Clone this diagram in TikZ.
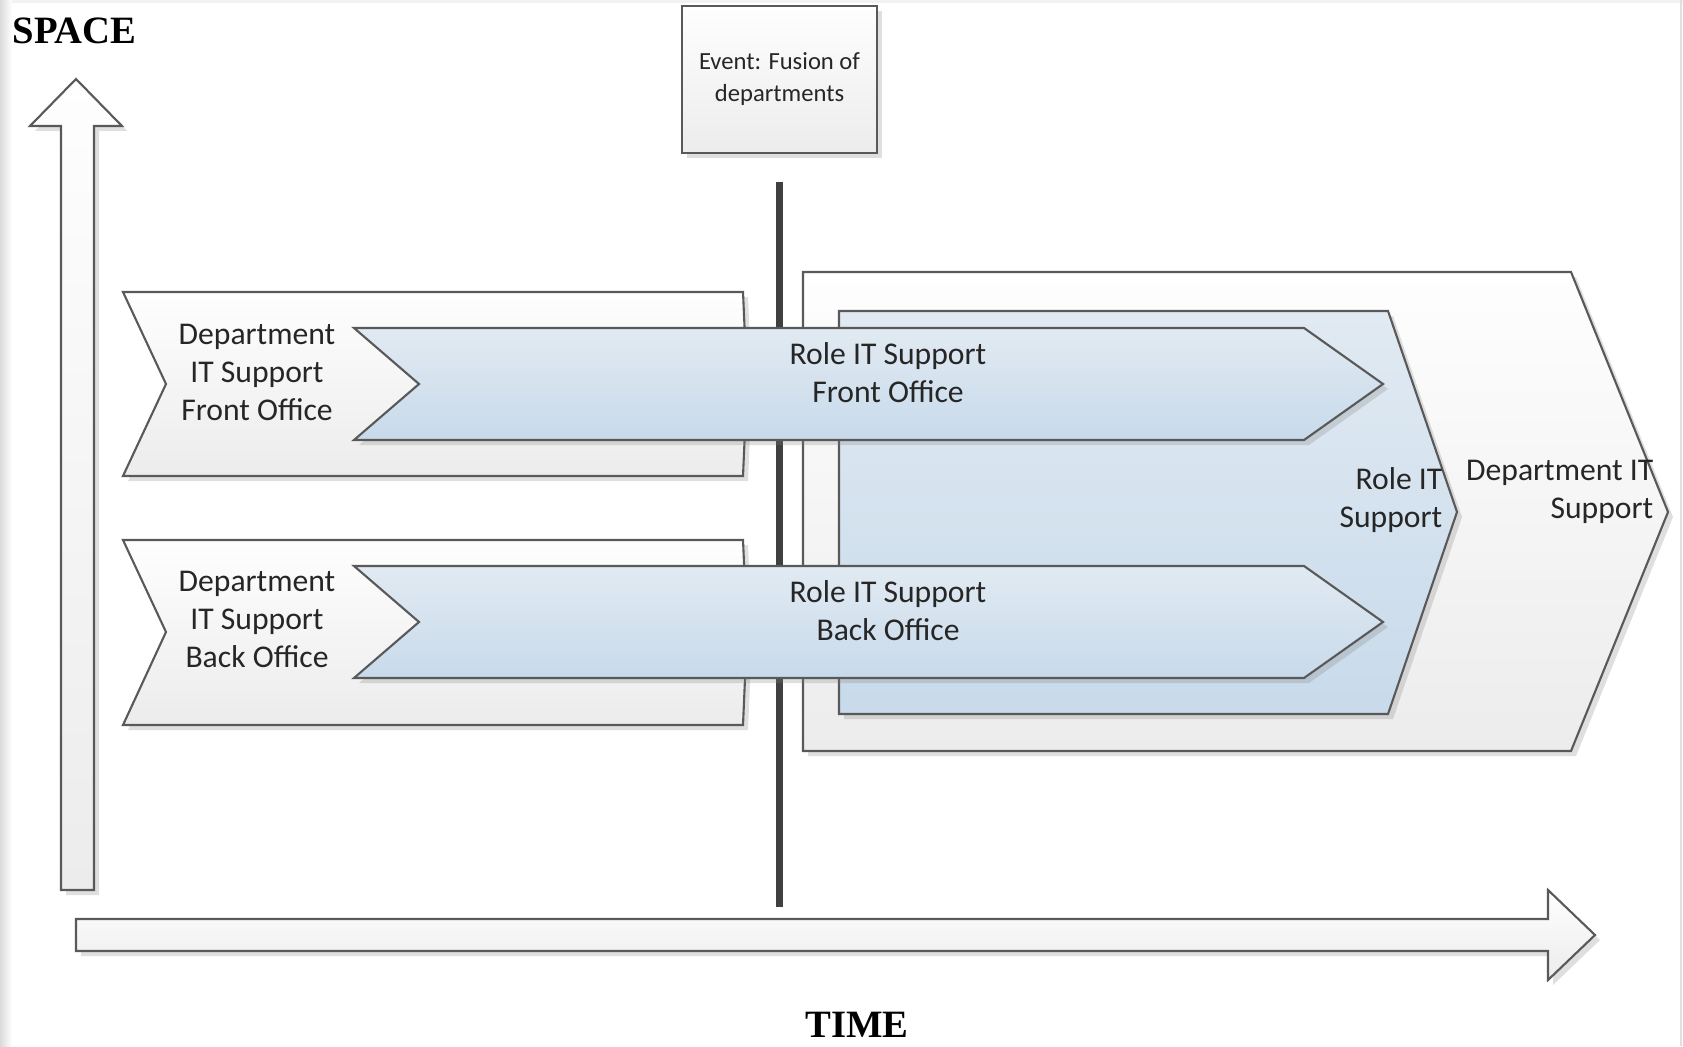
\documentclass[tikz,border=0pt]{standalone}
\usepackage{fontspec}
\setmainfont{Carlito}
\newfontfamily\axisfont{Liberation Serif}
\usetikzlibrary{shadows}
\definecolor{edge}{HTML}{595959}
\definecolor{greytop}{HTML}{FEFEFE}
\definecolor{greybot}{HTML}{ECECEC}
\definecolor{bluetop}{HTML}{E1EAF2}
\definecolor{bluebot}{HTML}{C8DAEB}

\begin{document}
\begin{tikzpicture}[x=0.01cm,y=-0.01cm,
		greyshape/.style={draw=edge,line width=0.6pt,top color=greytop,bottom color=greybot,
			drop shadow={shadow xshift=0.5mm,shadow yshift=-0.5mm,opacity=0.25}},
		blueshape/.style={greyshape,top color=bluetop,bottom color=bluebot},
		label/.style={font=\fontsize{9}{10.8}\selectfont,text=black!85,align=center,inner sep=0pt},
		axislabel/.style={font=\axisfont\bfseries\fontsize{11}{13}\selectfont,inner sep=0pt}]
	\useasboundingbox (0,0) rectangle (1683,1046);
	% page edge
	\shade[left color=black!14,right color=white] (0,0) rectangle (12,1046);
	\fill[black!5] (12,0) rectangle (1683,3);
	\draw[black!12] (1681,0) -- (1681,1046);

	% axes
	\draw[greyshape] (61,890) -- (61,126) -- (30,126) -- (76,79) -- (122,126)
		-- (94,126) -- (94,890) -- cycle;
	\draw[greyshape] (76,919) -- (1548,919) -- (1548,890) -- (1595,935)
		-- (1548,980) -- (1548,951) -- (76,951) -- cycle;
	\node[axislabel,anchor=west] (space) at (12,31) {SPACE};
	\node[axislabel] (time) at (857,1025) {TIME};

	% event
	\node[greyshape,minimum width=1.95cm,minimum height=1.47cm,
		font=\fontsize{7}{9.1}\selectfont,text=black!85,align=center] (event) at (779.5,79.5)
		{Event: Fusion of\\departments};
	\coordinate (lineTop) at (779,182);
	\coordinate (lineBot) at (779,907);
	\draw[line width=2pt,black!75] (lineTop) -- (lineBot);

	% departments before
	\draw[greyshape] (123,292) -- (743,292) -- (747,384) -- (743,476) -- (123,476)
		-- (166,384) -- cycle;
	\draw[greyshape] (123,540) -- (743,540) -- (747,632) -- (743,725) -- (123,725)
		-- (166,632) -- cycle;

	% department after
	\draw[greyshape] (803,272) -- (1571,272) -- (1668,512) -- (1571,751) -- (803,751) -- cycle;
	\draw[blueshape] (839,311) -- (1388,311) -- (1457,512) -- (1388,714) -- (839,714) -- cycle;

	% roles
	\draw[blueshape] (354,328) -- (1304,328) -- (1383,384) -- (1304,440) -- (354,440)
		-- (419,384) -- cycle;
	\draw[blueshape] (354,566) -- (1304,566) -- (1383,622) -- (1304,678) -- (354,678)
		-- (419,622) -- cycle;

	\node[label] (deptfo) at (257,372) {Department\\IT Support\\Front Office};
	\node[label] (deptbo) at (257,619) {Department\\IT Support\\Back Office};
	\node[label] (rolefo) at (888,373) {Role IT Support\\Front Office};
	\node[label] (rolebo) at (888,611) {Role IT Support\\Back Office};
	\node[label,align=right,anchor=east] (roleit) at (1443,500) {Role IT\\Support};
	\node[label,align=right,anchor=east] (deptit) at (1654,492) {Department IT\\Support};
\end{tikzpicture}
\end{document}
